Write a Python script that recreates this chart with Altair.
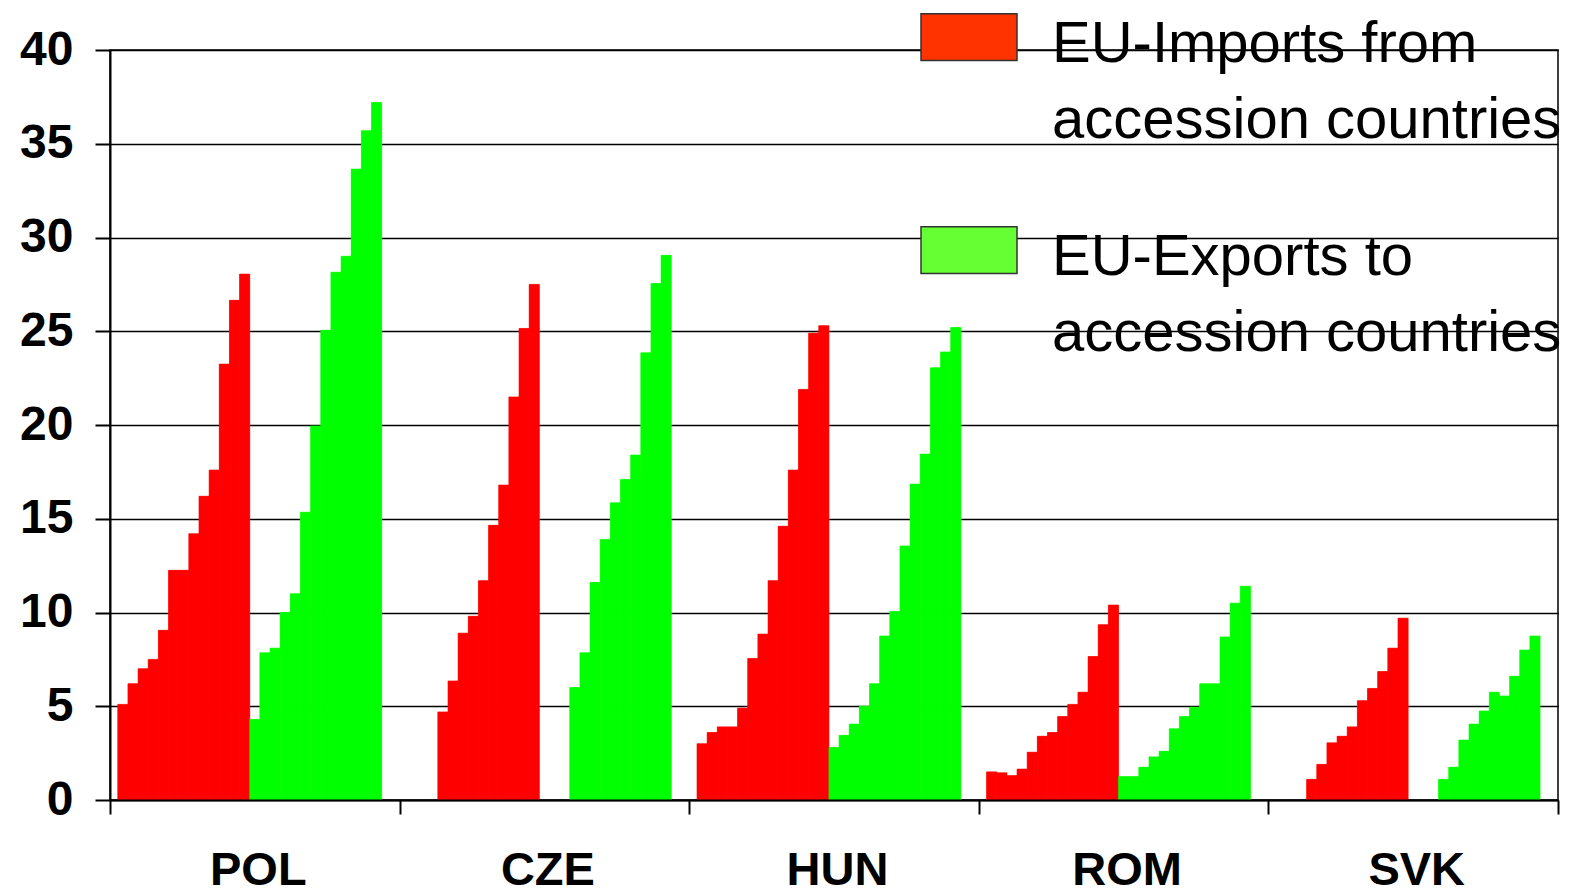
import altair as alt
import pandas as pd

countries = ["POL", "CZE", "HUN", "ROM", "SVK"]
years = [str(y) for y in range(1989, 2002)]
series = ["EU-Imports from|accession countries", "EU-Exports to|accession countries"]
bar_colors = ["#FF0000", "#00FF00"]
legend_colors = ["#FF3300", "#66FF33"]

# EU imports from accession countries (None = no bar)
imp_pol = [5.1, 6.2, 7.0, 7.5, 9.05, 12.25, 12.25, 14.2, 16.2, 17.6, 23.25, 26.65, 28.05]
imp_cze = [None, None, None, 4.7, 6.35, 8.9, 9.8, 11.7, 14.65, 16.8, 21.5, 25.15, 27.5]
imp_hun = [3.0, 3.6, 3.9, 3.9, 4.9, 7.55, 8.85, 11.7, 14.6, 17.6, 21.9, 24.9, 25.3]
imp_rom = [1.5, 1.45, 1.3, 1.65, 2.55, 3.4, 3.6, 4.45, 5.1, 5.75, 7.65, 9.35, 10.4]
imp_svk = [None, None, None, 1.1, 1.9, 3.05, 3.4, 3.9, 5.3, 5.95, 6.85, 8.1, 9.7]

# EU exports to accession countries
exp_pol = [4.3, 7.85, 8.1, 10.0, 11.0, 15.35, 19.95, 25.05, 28.15, 29.0, 33.65, 35.7, 37.2]
exp_cze = [None, None, None, 6.0, 7.85, 11.6, 13.9, 15.85, 17.1, 18.4, 23.85, 27.55, 29.05]
exp_hun = [2.8, 3.45, 4.05, 5.0, 6.2, 8.75, 10.05, 13.55, 16.85, 18.45, 23.05, 23.9, 25.2]
exp_rom = [1.25, 1.25, 1.75, 2.3, 2.6, 3.8, 4.45, 4.95, 6.2, 6.2, 8.7, 10.5, 11.4]
exp_svk = [None, None, None, 1.1, 1.75, 3.2, 4.05, 4.75, 5.75, 5.55, 6.6, 8.0, 8.75]

imports = dict(zip(countries, [imp_pol, imp_cze, imp_hun, imp_rom, imp_svk]))
exports = dict(zip(countries, [exp_pol, exp_cze, exp_hun, exp_rom, exp_svk]))

rows = []
for c in countries:
    for key, name, table in [("imp", series[0], imports), ("exp", series[1], exports)]:
        for y, v in zip(years, table[c]):
            if v is not None:
                rows.append({"country": c, "series": name, "slot": key + y, "value": v})
df = pd.DataFrame(rows)
# one empty trailing slot leaves the gap before the next country
slots = ["imp" + y for y in years] + ["exp" + y for y in years] + ["gap"]

FONT = "Liberation Sans"

base = alt.Chart(df).encode(
    x=alt.X(
        "country:N",
        sort=countries,
        title=None,
        scale=alt.Scale(domain=countries, paddingInner=0, paddingOuter=0),
        axis=alt.Axis(tickBand="extent", labelAngle=0, tickSize=14, labelPadding=33,
                      labelOffset=3, labelFontSize=47, grid=False, zindex=1),
    ),
    xOffset=alt.XOffset(
        "slot:N",
        scale=alt.Scale(domain=slots, paddingInner=0, paddingOuter=0.768),
    ),
    y=alt.Y(
        "value:Q",
        title=None,
        scale=alt.Scale(domain=[0, 40], nice=False),
        axis=alt.Axis(values=list(range(0, 41, 5)), tickSize=15, labelPadding=22,
                      labelFontSize=48, grid=True),
    ),
)

# bars carrying the legend (legend swatch colours)
keyed = base.mark_bar().encode(
    fill=alt.Fill(
        "series:N",
        scale=alt.Scale(domain=series, range=legend_colors),
        legend=alt.Legend(
            orient="none", legendX=810, legendY=-37, direction="vertical", title=None,
            symbolType="M-1,-1.004H1V-0.029H-1Z", symbolSize=9216,
            symbolStrokeColor="#333333", symbolStrokeWidth=1.5,
            labelFont=FONT, labelFontSize=58, labelFontWeight="normal", labelColor="black",
            labelLimit=0, labelOffset=34, labelBaseline="alphabetic",
            labelExpr="split(datum.label, '|')", rowPadding=73, padding=0,
        ),
    ),
)

# visible bars in the plot colours
shown = base.mark_bar(strokeWidth=0.6).encode(
    fill=alt.Fill("series:N", scale=alt.Scale(domain=series, range=bar_colors), legend=None),
    stroke=alt.Stroke("series:N", scale=alt.Scale(domain=series, range=bar_colors), legend=None),
)

chart = (
    alt.layer(keyed, shown)
    .resolve_scale(fill="independent")
    .properties(
        width=1448, height=750,
        autosize=alt.AutoSizeParams(type="none"),
        padding={"left": 102, "top": 42, "right": 6, "bottom": 86},
    )
    .configure(style={"guide-label": {"lineHeight": 76}})
    .configure_view(stroke="black", strokeWidth=1.5)
    .configure_axis(
        labelFont=FONT, labelFontWeight="bold", labelColor="black",
        domainColor="black", domainWidth=2, tickColor="black", tickWidth=2,
        gridColor="black", gridWidth=1.5, gridOpacity=1,
    )
)

chart.save("out.html", embed_options={"renderer": "svg", "actions": False})
